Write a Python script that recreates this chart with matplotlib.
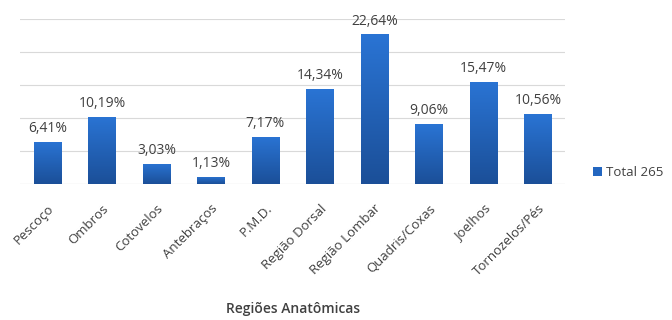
import matplotlib
matplotlib.use("Agg")
import matplotlib.pyplot as plt
import numpy as np
from matplotlib.colors import LinearSegmentedColormap
from matplotlib.patches import Patch

categories = ["Pescoço", "Ombros", "Cotovelos", "Antebraços", "P.M.D.", "Região Dorsal",
              "Região Lombar", "Quadris/Coxas", "Joelhos", "Tornozelos/Pés"]
values = [6.41, 10.19, 3.03, 1.13, 7.17, 14.34, 22.64, 9.06, 15.47, 10.56]
labels = ["6,41%", "10,19%", "3,03%", "1,13%", "7,17%", "14,34%", "22,64%", "9,06%", "15,47%", "10,56%"]
series_name = "Total 265"
xlabel = "Regiões Anatômicas"

plt.rcParams['font.family'] = ['Open Sans', 'DejaVu Sans']
txt = "#404040"

fig = plt.figure(figsize=(6.72, 3.2), dpi=100)
ax = fig.add_axes([0.030, 0.425, 0.811, 0.516])

x = np.arange(len(categories))
bars = ax.bar(x, values, width=0.5, color="#2366c0", zorder=2)

cmap = LinearSegmentedColormap.from_list("g", ["#1b4f98", "#2a74d4"])
grad = np.linspace(0, 1, 256).reshape(-1, 1)
for b in bars:
    x0, y0 = b.get_x(), b.get_y()
    w, h = b.get_width(), b.get_height()
    im = ax.imshow(grad, cmap=cmap, aspect='auto', origin='lower',
                   extent=[x0, x0 + w, y0, y0 + h], zorder=3)
    im.set_clip_path(b)

for xi, v, lab in zip(x, values, labels):
    ax.text(xi, v + 0.9, lab, ha='center', va='bottom', fontsize=10, color=txt, zorder=4)

ax.set_xlim(-0.5, len(categories) - 0.5)
ax.set_ylim(0, 25)
ax.set_yticks(np.arange(0, 26, 5))
ax.yaxis.grid(True, color="#d9d9d9", linewidth=0.8, zorder=0)
ax.set_axisbelow(True)
ax.tick_params(axis='y', left=False, labelleft=False)
ax.tick_params(axis='x', length=0, pad=13)
for s in ax.spines.values():
    s.set_visible(False)
ax.axhline(0, color="#d9d9d9", linewidth=0.8, zorder=1)

ax.set_xticks(x)
ax.set_xticklabels(categories, rotation=45, ha='right', rotation_mode='anchor',
                   fontsize=9.5, color=txt)
ax.set_xlabel(xlabel, fontsize=10, color=txt, fontweight='semibold', labelpad=17)

handle = Patch(facecolor="#2366c0", edgecolor="none")
fig.legend([handle], [series_name], loc='center left', bbox_to_anchor=(0.882, 0.46),
           frameon=False, fontsize=9.5, handlelength=0.7, handleheight=0.7,
           handletextpad=0.3, labelcolor=txt, borderaxespad=0, borderpad=0)

fig.savefig("out.png", dpi=100)
